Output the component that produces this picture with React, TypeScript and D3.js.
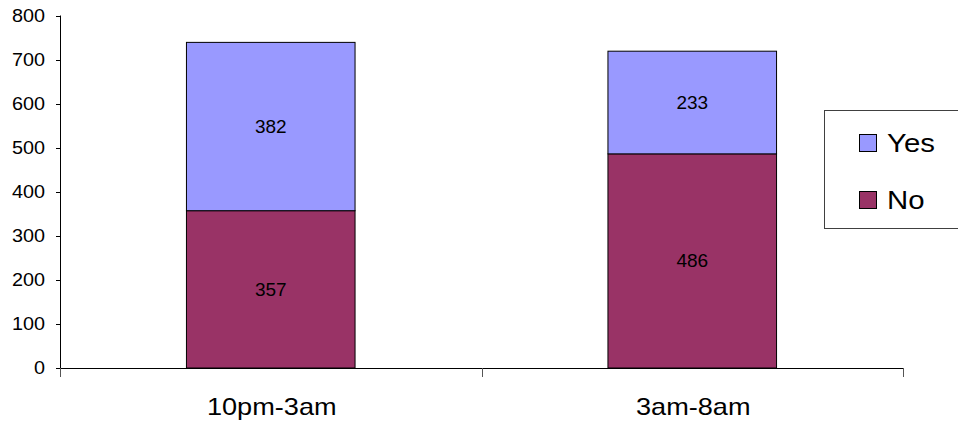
import React from "react";
import * as d3 from "d3";

const categories = ["10pm-3am", "3am-8am"];
const seriesNames = ["No", "Yes"];
const noValues = [357, 486];
const yesValues = [382, 233];
const yTicks = [0, 100, 200, 300, 400, 500, 600, 700, 800];
const colors: Record<string, string> = { Yes: "#9999FF", No: "#993366" };

const W = 958;
const H = 426;
const FONT = "Arial, 'Liberation Sans', Helvetica, sans-serif";

export default function App() {
  const x = d3.scaleBand<string>().domain(categories).range([60, 903]).padding(0);
  const y = d3.scaleLinear().domain([0, 800]).range([368, 15.5]);

  const rows = categories.map((c, i) => ({ cat: c, No: noValues[i], Yes: yesValues[i] }));
  const stack = d3.stack<any>().keys(seriesNames)(rows);

  const bw = x.bandwidth();
  const barW = bw * 0.4;

  const legendItems = ["Yes", "No"];

  return (
    <svg width={W} height={H} style={{ position: "absolute", left: 0, top: 0, background: "#fff" }} fontFamily={FONT}>
      {/* stacked bars */}
      {stack.map((layer) =>
        layer.map((d, i) => {
          const cx = (x(categories[i]) as number) + bw / 2;
          const y0 = y(d[0]);
          const y1 = y(d[1]);
          return (
            <g key={layer.key + i}>
              <rect x={cx - barW / 2} y={y1} width={barW} height={y0 - y1}
                fill={colors[layer.key]} stroke="#000" strokeWidth={1} />
              <text x={cx} y={(y0 + y1) / 2} textAnchor="middle" dominantBaseline="central"
                fontSize={19} fill="#000">{d[1] - d[0]}</text>
            </g>
          );
        })
      )}

      {/* y axis */}
      <line x1={60.5} x2={60.5} y1={y(800)} y2={y(0) + 9} stroke="#000" />
      {yTicks.map((t) => (
        <g key={t}>
          <line x1={56} x2={60.5} y1={Math.round(y(t)) + 0.5} y2={Math.round(y(t)) + 0.5} stroke="#000" />
          <text x={45} y={y(t)} textAnchor="end" dominantBaseline="central" fontSize={18}
            transform={`translate(45,0) scale(1.1,1) translate(-45,0)`} fill="#000">{t}</text>
        </g>
      ))}

      {/* x axis */}
      <line x1={60} x2={903.5} y1={368.5} y2={368.5} stroke="#000" />
      {[60, 482, 903].map((px, i) => (
        <line key={i} x1={px + 0.5} x2={px + 0.5} y1={368} y2={377} stroke="#555" />
      ))}
      {categories.map((c) => {
        const cx = (x(c) as number) + bw / 2 + 1;
        return (
          <text key={c} x={cx} y={415} textAnchor="middle" fontSize={23}
            transform={`translate(${cx},0) scale(1.18,1) translate(${-cx},0)`} fill="#000">{c}</text>
        );
      })}

      {/* legend */}
      <rect x={824.5} y={110.5} width={150} height={118} fill="#fff" stroke="#404040" />
      {legendItems.map((k, i) => {
        const base = 152 + i * 57;
        return (
          <g key={k}>
            <rect x={859.5} y={base - 17.5} width={17} height={17} fill={colors[k]} stroke="#000" />
            <text x={887} y={base} fontSize={26}
              transform={`translate(887,0) scale(1.13,1) translate(-887,0)`} fill="#000">{k}</text>
          </g>
        );
      })}
    </svg>
  );
}
